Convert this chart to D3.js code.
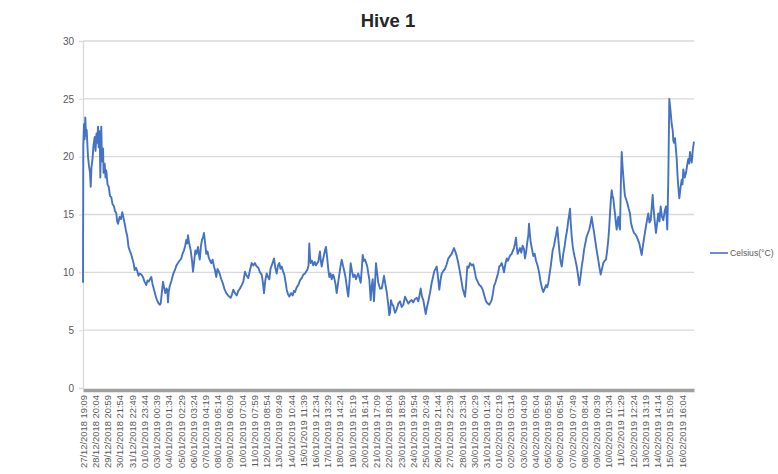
<!DOCTYPE html>
<html>
<head>
<meta charset="utf-8">
<script src="https://cdn.jsdelivr.net/npm/d3@7"></script>
<style>
  html, body { margin: 0; padding: 0; background: #ffffff; }
  svg { display: block; }
</style>
</head>
<body>
<svg id="chart" width="778" height="474"></svg>
<script>
// ---- DATA ----
const chartTitle = "Hive 1";
const seriesName = "Celsius(°C)";
const startTime = "27/12/2018 19:09";
const endTime = "17/02/2019 16:59";
const yTicks = [0, 5, 10, 15, 20, 25, 30];
const tickLabels = [
  "27/12/2018 19:09","28/12/2018 20:04","29/12/2018 20:59","30/12/2018 21:54","31/12/2018 22:49",
  "01/01/2019 23:44","03/01/2019 00:39","04/01/2019 01:34","05/01/2019 02:29","06/01/2019 03:24",
  "07/01/2019 04:19","08/01/2019 05:14","09/01/2019 06:09","10/01/2019 07:04","11/01/2019 07:59",
  "12/01/2019 08:54","13/01/2019 09:49","14/01/2019 10:44","15/01/2019 11:39","16/01/2019 12:34",
  "17/01/2019 13:29","18/01/2019 14:24","19/01/2019 15:19","20/01/2019 16:14","21/01/2019 17:09",
  "22/01/2019 18:04","23/01/2019 18:59","24/01/2019 19:54","25/01/2019 20:49","26/01/2019 21:44",
  "27/01/2019 22:39","28/01/2019 23:34","30/01/2019 00:29","31/01/2019 01:24","01/02/2019 02:19",
  "02/02/2019 03:14","03/02/2019 04:09","04/02/2019 05:04","05/02/2019 05:59","06/02/2019 06:54",
  "07/02/2019 07:49","08/02/2019 08:44","09/02/2019 09:39","10/02/2019 10:34","11/02/2019 11:29",
  "12/02/2019 12:24","13/02/2019 13:19","14/02/2019 14:14","15/02/2019 15:09","16/02/2019 16:04"
];
// hours since start, temperature (°C)
const readings = [
  [0,9.1],[0.6,21.0],[2.0,22.8],[3.3,21.5],[4.7,23.4],[6.1,21.8],[7.5,22.3],[10.2,20.0],[12.2,19.2],[14.3,18.6],
  [15.7,17.4],[17.3,19.1],[19.4,19.8],[21.4,21.0],[23.9,21.7],[25.5,20.5],[27.5,22.0],[29.2,21.2],[30.6,22.6],[32.0,20.8],
  [34.1,22.2],[35.3,18.2],[37.3,22.6],[38.7,19.6],[40.8,20.7],[42.0,18.6],[44.2,19.4],[45.9,18.2],[47.5,18.8],[50.0,17.6],
  [52.4,17.4],[55.1,16.6],[57.7,16.5],[60.2,15.9],[63.2,15.7],[65.2,15.3],[67.9,15.1],[69.7,14.4],[71.4,14.2],[74.8,14.8],
  [77.5,14.6],[80.1,15.2],[82.6,14.7],[85.0,14.2],[87.7,13.6],[90.3,13.1],[92.8,12.2],[95.2,11.9],[97.9,11.6],[99.9,11.3],
  [103.0,10.8],[105.4,10.2],[108.1,10.4],[110.7,10.1],[113.2,9.7],[115.6,9.9],[119.3,9.8],[122.3,9.6],[125.4,9.2],[129.1,8.9],
  [131.5,9.3],[134.0,9.2],[136.6,9.4],[139.3,9.6],[141.7,9.0],[144.8,8.5],[147.2,8.1],[149.5,7.75],[151.9,7.5],[154.4,7.3],
  [157.0,7.2],[158.4,7.3],[161.1,8.4],[163.1,9.2],[165.2,8.7],[167.8,8.2],[170.3,8.6],[171.9,8.5],[173.3,7.4],[174.7,8.3],
  [176.8,8.8],[180.5,9.3],[183.5,9.8],[188.2,10.3],[190.6,10.6],[193.7,10.8],[196.8,11.0],[200.4,11.2],[202.9,11.6],[205.9,11.9],
  [208.4,12.3],[210.6,12.8],[212.5,12.5],[214.1,13.2],[216.1,12.6],[219.6,11.9],[222.3,11.0],[224.3,10.05],[226.8,11.0],[229.0,11.9],
  [231.5,11.6],[234.5,12.2],[236.5,11.5],[238.0,11.1],[240.6,12.3],[242.6,12.8],[244.6,13.0],[246.7,13.4],[248.8,12.6],[251.4,11.6],
  [253.9,11.8],[256.3,11.3],[259.0,11.0],[261.6,10.8],[264.3,11.1],[267.1,10.5],[269.1,10.2],[271.8,9.6],[274.2,10.3],[276.7,10.1],
  [279.3,9.8],[282.0,9.4],[285.5,9.0],[288.9,8.5],[292.2,8.2],[295.7,8.0],[298.3,7.9],[301.2,7.8],[303.8,8.1],[306.5,8.5],
  [309.9,8.2],[313.4,8.0],[316.7,8.4],[320.1,8.6],[323.6,8.9],[326.9,9.2],[330.3,10.05],[333.8,9.7],[337.0,9.5],[340.5,10.2],
  [344.0,10.8],[347.2,10.6],[350.7,10.8],[354.2,10.5],[357.4,10.4],[360.9,10.0],[364.4,9.8],[366.6,9.2],[369.1,8.2],[371.7,9.3],
  [374.6,9.9],[377.2,9.6],[379.9,9.4],[382.3,10.3],[384.8,10.6],[387.4,10.9],[389.4,11.2],[392.1,10.4],[394.9,9.9],[397.6,10.6],
  [400.3,10.8],[402.7,10.3],[405.2,10.5],[407.8,10.1],[410.5,9.8],[412.9,9.2],[415.4,8.5],[418.0,8.1],[420.7,7.9],[424.1,8.2],
  [427.6,8.0],[430.2,8.4],[432.3,8.3],[435.7,8.7],[439.0,8.9],[442.5,9.3],[445.9,9.5],[449.2,9.8],[452.7,9.9],[455.3,10.1],
  [457.4,10.2],[459.8,10.6],[461.4,12.5],[462.9,11.3],[464.3,10.8],[466.9,11.0],[469.6,10.6],[472.4,10.9],[475.1,10.6],[477.7,10.8],
  [479.8,10.9],[481.6,11.4],[483.2,11.8],[484.9,11.0],[486.7,10.5],[489.4,11.1],[491.4,11.5],[493.4,11.9],[495.5,12.2],[497.5,11.4],
  [498.9,10.8],[500.6,10.1],[502.2,9.6],[504.7,9.9],[507.1,9.4],[509.8,9.8],[511.8,9.6],[514.8,9.0],[517.3,8.2],[519.9,9.0],
  [522.6,9.8],[525.0,10.5],[527.5,11.1],[530.1,10.6],[532.2,10.2],[535.2,9.6],[537.7,8.8],[539.3,8.3],[540.9,7.9],[543.4,9.2],
  [545.8,10.8],[548.5,10.1],[551.1,9.6],[554.0,9.8],[556.6,9.4],[559.1,9.7],[561.3,9.9],[563.8,9.5],[566.2,9.1],[568.3,10.2],
  [570.3,11.5],[572.5,11.0],[575.0,11.1],[577.4,10.8],[579.7,10.5],[581.7,9.9],[583.8,9.4],[585.2,8.5],[586.6,7.6],[588.7,8.8],
  [590.7,9.4],[592.1,8.4],[593.3,7.5],[595.4,9.0],[597.4,10.8],[599.9,9.9],[602.1,9.1],[605.6,8.6],[609.1,8.6],[611.7,9.2],
  [613.7,9.7],[616.4,9.0],[619.2,8.3],[621.9,7.4],[624.5,6.3],[626.0,6.5],[628.0,7.6],[629.5,7.3],[632.7,7.1],[636.2,6.5],
  [639.6,6.8],[642.9,7.3],[646.4,7.5],[649.8,7.0],[653.1,7.2],[656.6,7.9],[660.0,7.6],[663.3,7.3],[666.8,7.5],[670.2,7.6],
  [673.5,7.4],[677.0,7.7],[680.4,7.8],[683.7,7.5],[686.1,8.0],[688.6,8.6],[691.2,7.9],[693.9,7.6],[696.3,7.0],[698.8,6.4],
  [701.4,7.0],[704.1,7.5],[707.5,8.2],[711.0,9.1],[713.7,9.6],[716.3,10.1],[718.8,10.3],[721.2,10.5],[723.8,9.6],[726.5,8.5],
  [728.9,9.3],[731.4,9.9],[734.6,10.1],[738.1,10.3],[741.6,10.7],[744.8,11.2],[748.3,11.4],[751.8,11.6],[754.4,11.9],[756.5,12.1],
  [759.1,11.8],[762.0,11.4],[765.2,10.8],[768.7,10.0],[771.4,9.3],[774.2,8.6],[776.9,8.2],[778.9,7.9],[780.9,8.8],[783.6,10.5],
  [786.4,10.4],[789.1,10.8],[792.6,10.6],[795.8,10.7],[798.7,10.1],[801.3,9.5],[804.8,9.2],[808.1,8.9],[811.5,8.8],[815.0,8.5],
  [818.3,8.0],[821.7,7.5],[825.2,7.3],[828.4,7.2],[830.9,7.4],[833.3,7.6],[836.0,8.2],[838.0,8.8],[840.7,9.1],[843.5,9.5],
  [846.2,9.9],[848.8,10.5],[851.3,10.6],[853.7,10.8],[856.4,10.4],[858.4,10.0],[861.1,10.7],[864.0,11.2],[866.6,11.0],[869.2,11.3],
  [871.7,11.5],[874.1,11.6],[876.8,11.9],[878.8,12.1],[880.8,12.5],[882.9,13.0],[884.5,12.2],[886.3,11.6],[889.0,11.9],[891.0,12.1],
  [893.7,11.7],[896.5,12.3],[899.2,12.0],[901.2,11.2],[903.7,11.8],[905.9,12.6],[908.0,13.2],[909.4,14.2],[911.0,13.4],[912.9,12.6],
  [915.5,12.0],[918.2,11.4],[921.0,11.6],[923.7,11.0],[926.1,10.7],[928.4,10.3],[930.4,9.9],[932.9,9.2],[935.3,8.75],[936.9,8.5],
  [938.6,8.3],[941.4,8.6],[944.1,8.9],[946.5,8.7],[948.8,9.1],[951.2,9.8],[953.6,10.5],[955.7,11.2],[957.7,11.9],[960.4,12.3],
  [962.4,12.8],[964.8,13.3],[967.1,13.9],[969.1,12.9],[971.2,11.9],[973.6,11.0],[976.1,10.5],[977.7,11.0],[979.3,11.6],[982.2,12.3],
  [984.8,13.1],[987.3,13.7],[989.5,14.5],[991.4,15.0],[993.0,15.5],[994.6,14.2],[996.5,13.1],[998.7,12.2],[1001.1,11.6],[1003.8,11.1],
  [1006.7,10.5],[1009.3,9.8],[1012.0,8.9],[1014.4,9.6],[1016.9,10.5],[1019.5,11.2],[1021.5,11.9],[1024.2,12.5],[1027.0,13.1],[1029.7,13.4],
  [1032.3,13.7],[1034.8,14.2],[1037.2,14.8],[1039.9,14.0],[1041.9,13.5],[1044.6,12.7],[1047.4,11.9],[1050.1,11.2],[1052.7,10.5],[1055.6,9.8],
  [1058.2,10.3],[1060.9,10.8],[1063.7,11.0],[1066.4,11.1],[1068.8,11.9],[1071.1,12.8],[1072.9,13.9],[1074.6,15.1],[1076.2,16.2],[1078.0,17.1],
  [1079.7,16.6],[1081.3,16.4],[1083.2,15.6],[1084.7,15.1],[1086.4,14.3],[1088.2,13.7],[1089.9,14.4],[1091.5,14.8],[1093.3,14.0],[1095.0,13.7],
  [1096.6,17.5],[1098.4,20.4],[1100.1,19.2],[1101.7,18.3],[1103.5,17.3],[1105.1,16.6],[1107.6,16.3],[1109.8,16.0],[1112.7,15.5],[1115.3,15.1],
  [1117.0,14.4],[1118.8,14.0],[1121.0,13.7],[1123.5,13.4],[1126.1,13.3],[1129.0,13.1],[1131.6,12.8],[1134.3,12.5],[1136.7,12.0],[1139.2,11.5],
  [1140.8,12.0],[1142.4,12.5],[1145.3,13.3],[1147.9,14.0],[1150.4,14.6],[1152.6,15.1],[1155.1,14.3],[1157.5,14.5],[1159.6,15.6],[1161.6,16.7],
  [1162.8,15.8],[1164.3,15.1],[1166.3,14.2],[1168.3,13.4],[1170.8,14.3],[1173.0,15.1],[1175.5,14.4],[1177.9,15.7],[1180.6,14.8],[1183.2,14.5],
  [1186.1,15.3],[1188.7,15.7],[1190.2,14.6],[1191.4,13.7],[1193.4,18.0],[1195.5,25.0],[1196.9,24.4],[1198.3,23.8],[1200.4,22.8],[1202.4,22.3],
  [1203.6,21.4],[1205.1,21.2],[1207.1,21.6],[1209.1,20.6],[1210.6,19.8],[1212.2,18.4],[1213.8,17.4],[1215.9,16.4],[1218.3,17.3],[1220.7,18.0],
  [1222.4,17.6],[1224.0,18.9],[1226.9,18.2],[1229.5,18.6],[1232.0,19.3],[1234.2,19.8],[1236.0,19.4],[1237.7,20.4],[1239.3,19.9],[1241.2,19.5],
  [1243.4,20.6],[1245.8,21.3]
];

// ---- CHART ----
const svg = d3.select("#chart");
const W = 778, H = 474;
const margin = { left: 83, right: 84, top: 41, bottom: 86 };
const parse = d3.utcParse("%d/%m/%Y %H:%M");
const t0 = parse(startTime);
const t1 = parse(endTime);

const x = d3.scaleUtc().domain([t0, t1]).range([margin.left, W - margin.right]);
const y = d3.scaleLinear().domain([0, 30]).range([H - margin.bottom, margin.top]);

const fontMain = "'Liberation Sans', Arial, sans-serif";
const txtColor = "#595959";

// gridlines
svg.append("g")
  .selectAll("line")
  .data(yTicks.filter(d => d > 0))
  .join("line")
  .attr("x1", x.range()[0]).attr("x2", x.range()[1])
  .attr("y1", d => y(d)).attr("y2", d => y(d))
  .attr("stroke", "#d9d9d9").attr("stroke-width", 1.3);

// y axis
const yAxis = d3.axisLeft(y).tickValues(yTicks).tickSize(4).tickPadding(5).tickFormat(d3.format("d"));
const gy = svg.append("g").attr("transform", `translate(${margin.left},0)`).call(yAxis);
gy.select(".domain").attr("stroke", "#d9d9d9").attr("stroke-width", 1.3);
gy.selectAll(".tick line").attr("stroke", "#d9d9d9");
gy.selectAll(".tick text").attr("fill", txtColor).style("font-family", fontMain).style("font-size", "10px");

// x axis
const tickDates = tickLabels.map(parse);
const xAxis = d3.axisBottom(x).tickValues(tickDates).tickSize(0).tickPadding(0)
  .tickFormat((d, i) => tickLabels[i]);
const gx = svg.append("g").attr("transform", `translate(0,${y(0) + 2})`).call(xAxis);
gx.select(".domain").attr("stroke", "#a0a0a0").attr("stroke-width", 3.6);
gx.selectAll(".tick text")
  .attr("fill", txtColor)
  .style("font-family", fontMain)
  .style("font-size", "9.4px")
  .attr("text-anchor", "end")
  .attr("dy", "0.35em")
  .attr("transform", "translate(0,5) rotate(-90)")
  .attr("x", 0).attr("y", 0);

// line
const line = d3.line()
  .x(d => x(new Date(t0.getTime() + d[0] * 3600000)))
  .y(d => y(d[1]));
svg.append("path")
  .datum(readings)
  .attr("d", line)
  .attr("fill", "none")
  .attr("stroke", "#4472c4")
  .attr("stroke-width", 1.9)
  .attr("stroke-linejoin", "round");

// title
svg.append("text")
  .attr("x", 388).attr("y", 27)
  .attr("text-anchor", "middle")
  .style("font-family", fontMain)
  .style("font-size", "18.5px")
  .style("font-weight", "bold")
  .attr("fill", "#262626")
  .text(chartTitle);

// legend
const lg = svg.append("g").attr("transform", "translate(710,253)");
lg.append("line").attr("x1", 0).attr("x2", 18).attr("y1", 0).attr("y2", 0)
  .attr("stroke", "#4472c4").attr("stroke-width", 1.6);
lg.append("text").attr("x", 20).attr("y", 0).attr("dy", "0.35em")
  .style("font-family", fontMain).style("font-size", "8.6px")
  .attr("fill", txtColor).text(seriesName);
</script>
</body>
</html>
